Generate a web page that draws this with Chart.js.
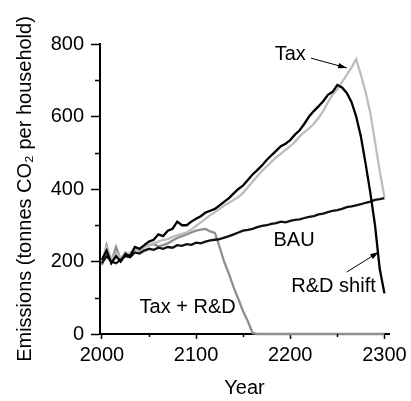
<!DOCTYPE html>
<html lang="en">
<head>
    <meta charset="UTF-8">
    <title>Emissions</title>
    <style>
        html, body { margin: 0; padding: 0; background: #fff; }
        #wrap { width: 411px; height: 401px; }
    </style>
</head>
<body>
    <div id="wrap"><canvas id="emChart" width="411" height="401"></canvas></div>
    <script src="https://cdn.jsdelivr.net/npm/chart.js@4.4.0/dist/chart.umd.min.js"></script>
<script>
    // years, every 5 years
    var years = [];
    for (var y = 2000; y <= 2300; y += 5) years.push(y);

    var bau = [195, 215, 200, 195, 205, 215, 212, 225, 222, 230,
               235, 232, 238, 235, 240, 238, 245, 243, 248, 246,
               252, 250, 255, 258, 260, 262, 266, 270, 275, 280,
               285, 287, 290, 295, 298, 300, 304, 306, 310, 308,
               312, 315, 316, 320, 323, 325, 330, 332, 336, 340,
               342, 345, 350, 352, 355, 358, 362, 365, 370, 372, 375];

    var rdShift = [205, 230, 195, 215, 200, 220, 215, 240, 235, 245,
                   255, 260, 275, 270, 285, 290, 310, 300, 300, 310,
                   318, 325, 335, 340, 345, 355, 365, 375, 388, 400,
                   410, 425, 440, 452, 465, 480, 493, 505, 518, 525,
                   535, 550, 562, 580, 600, 615, 628, 642, 660, 668,
                   687, 680, 665, 640, 600, 545, 470, 390, 300, 180, 112];

    var tax = [200, 240, 205, 225, 210, 215, 225, 230, 235, 240,
               245, 250, 255, 260, 262, 268, 272, 276, 280, 288,
               298, 308, 318, 328, 336, 345, 355, 362, 370, 378,
               390, 405, 420, 435, 450, 462, 475, 487, 497, 508,
               518, 530, 545, 557, 567, 580, 596, 615, 640, 660,
               675, 695, 715, 735, 758, 715, 668, 610, 530, 450, 378];

    var taxRD = [190, 245, 200, 240, 205, 225, 215, 235, 230, 240,
                 245, 248, 242, 245, 250, 258, 265, 270, 275, 280,
                 285, 288, 290, 283, 279, 240, 198, 165, 128, 96,
                 62, 35, 3, 0, 0, 0, 0, 0, 0, 0,
                 0, 0, 0, 0, 0, 0, 0, 0, 0, 0,
                 0, 0, 0, 0, 0, 0, 0, 0, 0, 0, 0];

    var yTicks = [0, 200, 400, 600, 800];
    var yMinor = [100, 300, 500, 700];
    var xTicks = [2000, 2100, 2200, 2300];
    var xMinor = [2050, 2150, 2250];

    function pts(vals) {
        return years.map(function (yr, i) { return { x: yr, y: vals[i] }; });
    }

    var font = '"Liberation Sans", Arial, sans-serif';

    // text labels and arrows, placed in data coordinates
    var notes = [
        { text: 'Tax', x: 2200, y: 770 },
        { text: 'BAU', x: 2204, y: 257 },
        { text: 'R&D shift', x: 2246, y: 130 },
        { text: 'Tax + R&D', x: 2091, y: 72 }
    ];
    var arrows = [
        { x0: 2222, y0: 761, x1: 2260, y1: 734 },
        { x0: 2260, y0: 171, x1: 2294, y1: 226 }
    ];

    var notesPlugin = {
        id: 'notes',
        afterDatasetsDraw: function (chart) {
            var ctx = chart.ctx, sx = chart.scales.x, sy = chart.scales.y;
            ctx.save();
            // minor ticks
            ctx.strokeStyle = '#000';
            ctx.lineWidth = 1.5;
            ctx.beginPath();
            yMinor.forEach(function (v) {
                var p = Math.round(sy.getPixelForValue(v)) + 0.5;
                ctx.moveTo(chart.chartArea.left - 5, p);
                ctx.lineTo(chart.chartArea.left, p);
            });
            xMinor.forEach(function (v) {
                var p = Math.round(sx.getPixelForValue(v)) + 0.5;
                ctx.moveTo(p, chart.chartArea.bottom);
                ctx.lineTo(p, chart.chartArea.bottom + 3);
            });
            ctx.stroke();

            ctx.fillStyle = '#000';
            ctx.font = '20px ' + font;
            ctx.textAlign = 'center';
            ctx.textBaseline = 'middle';
            notes.forEach(function (n) {
                ctx.fillText(n.text, sx.getPixelForValue(n.x), sy.getPixelForValue(n.y));
            });
            ctx.lineWidth = 1;
            arrows.forEach(function (a) {
                var x0 = sx.getPixelForValue(a.x0), y0 = sy.getPixelForValue(a.y0);
                var x1 = sx.getPixelForValue(a.x1), y1 = sy.getPixelForValue(a.y1);
                var ang = Math.atan2(y1 - y0, x1 - x0);
                ctx.beginPath();
                ctx.moveTo(x0, y0);
                ctx.lineTo(x1, y1);
                ctx.stroke();
                ctx.beginPath();
                ctx.moveTo(x1, y1);
                ctx.lineTo(x1 - 9 * Math.cos(ang - 0.3), y1 - 9 * Math.sin(ang - 0.3));
                ctx.lineTo(x1 - 9 * Math.cos(ang + 0.3), y1 - 9 * Math.sin(ang + 0.3));
                ctx.closePath();
                ctx.fill();
            });
            ctx.restore();
        }
    };

    function line(label, vals, color, order) {
        return {
            label: label,
            data: pts(vals),
            borderColor: color,
            borderWidth: 2.3,
            pointRadius: 0,
            tension: 0,
            fill: false,
            clip: false,
            order: order
        };
    }

    var ctx = document.getElementById('emChart').getContext('2d');
    var emChart = new Chart(ctx, {
        type: 'line',
        data: {
            datasets: [
                line('R&D shift', rdShift, '#000000', 1),
                line('BAU', bau, '#111111', 2),
                line('Tax', tax, '#bdbdbd', 3),
                line('Tax + R&D', taxRD, '#8e8e8e', 4)
            ]
        },
        options: {
            responsive: false,
            animation: false,
            layout: { padding: { top: 44, right: 20, left: 0, bottom: 0 } },
            plugins: { legend: { display: false }, tooltip: { enabled: false } },
            scales: {
                x: {
                    type: 'linear',
                    min: 1998,
                    max: 2305,
                    afterFit: function (s) { s.height = 67; },
                    afterBuildTicks: function (s) {
                        s.ticks = xTicks.map(function (v) { return { value: v }; });
                    },
                    border: { display: true, color: '#000', width: 2 },
                    grid: { drawOnChartArea: false, drawTicks: true, tickLength: 5, color: '#000', tickWidth: 1.5 },
                    ticks: {
                        color: '#000',
                        padding: 4,
                        maxRotation: 0,
                        autoSkip: false,
                        font: { family: font, size: 20 },
                        callback: function (v) { return String(v); }
                    },
                    title: {
                        display: true,
                        text: 'Year',
                        color: '#000',
                        font: { family: font, size: 20 },
                        padding: { top: 0, bottom: 1 }
                    }
                },
                y: {
                    min: 0,
                    max: 800,
                    afterFit: function (s) { s.width = 100; },
                    afterBuildTicks: function (s) {
                        s.ticks = yTicks.map(function (v) { return { value: v }; });
                    },
                    border: { display: true, color: '#000', width: 2 },
                    grid: { drawOnChartArea: false, drawTicks: true, tickLength: 9, color: '#000', tickWidth: 1.5 },
                    ticks: {
                        color: '#000',
                        padding: 7,
                        autoSkip: false,
                        font: { family: font, size: 20 },
                        callback: function (v) { return String(v); }
                    },
                    title: {
                        display: true,
                        text: 'Emissions (tonnes CO₂ per household)',
                        color: '#000',
                        font: { family: font, size: 20 },
                        padding: { top: 13, bottom: 0 }
                    }
                }
            }
        },
        plugins: [notesPlugin]
    });
</script>
</body>
</html>
